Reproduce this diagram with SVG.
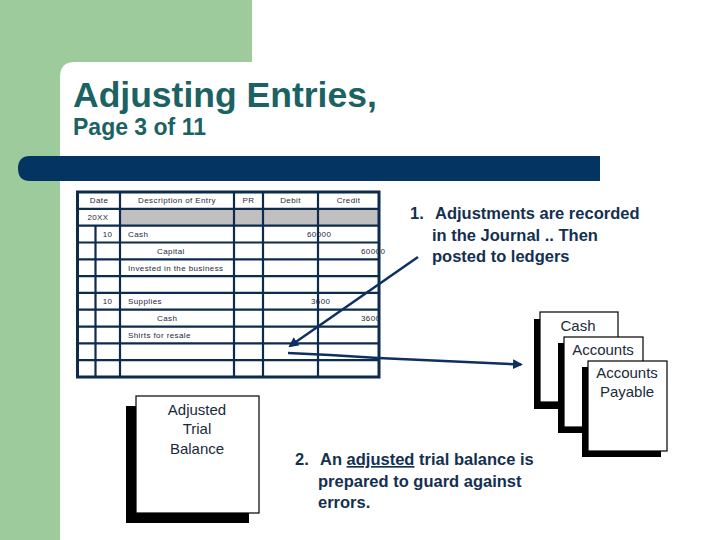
<svg xmlns="http://www.w3.org/2000/svg" width="720" height="540" viewBox="0 0 720 540">
<style>
.title{font-family:"Liberation Sans",Arial,sans-serif;font-weight:bold;fill:#1b6262}
.tbl{font-family:"Liberation Sans",Arial,sans-serif;font-size:8px;fill:#1a2a3a;letter-spacing:0.4px}
.grid{stroke:#0c2b4d;stroke-width:2.2;fill:none}
.call{font-family:"Liberation Sans",Arial,sans-serif;font-size:16.5px;font-weight:bold;fill:#14304f}
.card{fill:#ffffff;stroke:#000;stroke-width:1.2}
.shadow{fill:#000}
.cardtxt{font-family:"Liberation Sans",Arial,sans-serif;font-size:15px;fill:#1a2a3a;text-anchor:middle}
.conn{stroke:#0d3060;stroke-width:2.5;fill:none}
</style>
<defs>
<marker id="ah" viewBox="0 0 10 10" refX="8" refY="5" markerWidth="4" markerHeight="4" orient="auto" markerUnits="strokeWidth">
<path d="M0,0 L10,5 L0,10 z" fill="#0d3060"/>
</marker>
</defs>
<rect x="0" y="0" width="720" height="540" fill="#ffffff"/>
<g id="background">
<rect x="0" y="0" width="252" height="75" fill="#9ecb9c"/>
<rect x="0" y="0" width="60" height="540" fill="#9ecb9c"/>
<path d="M60,540 L60,77 Q60,62 75,62 L720,62 L720,540 z" fill="#ffffff"/>
<path d="M30,156 L600,156 L600,181 L30,181 Q18,181 18,168.5 Q18,156 30,156 z" fill="#033462"/>
</g>
<g id="title">
<text class="title" x="73" y="107" font-size="35.5">Adjusting Entries,</text>
<text class="title" x="73" y="135" font-size="23">Page 3 of 11</text>
</g>
<g id="journal">
<rect x="120" y="208.8" width="258" height="16.8" fill="#c0c0c0"/>
<g class="grid">
<rect x="77.5" y="192" width="301.5" height="185" stroke-width="3"/>
<path d="M77.5,208.8H379 M77.5,225.6H379 M77.5,242.5H379 M77.5,259.3H379 M77.5,276.1H379 M77.5,292.9H379 M77.5,309.7H379 M77.5,326.6H379 M77.5,343.4H379 M77.5,360.2H379"/>
<path d="M95.5,225.6V377 M120,192V377 M234,192V377 M263,192V377 M318,192V377"/>
</g>
<g class="tbl">
<text x="99" y="203" text-anchor="middle">Date</text>
<text x="177" y="203" text-anchor="middle">Description of Entry</text>
<text x="248.5" y="203" text-anchor="middle">PR</text>
<text x="290.5" y="203" text-anchor="middle">Debit</text>
<text x="348.5" y="203" text-anchor="middle">Credit</text>
<text x="98" y="220" text-anchor="middle">20XX</text>
<text x="107.5" y="237" text-anchor="middle">10</text>
<text x="128" y="237">Cash</text>
<text x="307" y="237">60000</text>
<text x="157" y="254">Capital</text>
<text x="361" y="254">60000</text>
<text x="128" y="271">Invested in the business</text>
<text x="107.5" y="304" text-anchor="middle">10</text>
<text x="128" y="304">Supplies</text>
<text x="311" y="304">3600</text>
<text x="157" y="321">Cash</text>
<text x="361" y="321">3600</text>
<text x="128" y="338">Shirts for resale</text>
</g>
</g>
<g id="connectors">
<line class="conn" x1="418" y1="257" x2="290" y2="346" marker-end="url(#ah)"/>
<polyline class="conn" points="288,353 330,355 378,358 521,364.5" marker-end="url(#ah)"/>
</g>
<g id="callout1">
<text class="call" x="410" y="219">1.<tspan x="435">Adjustments are recorded</tspan></text>
<text class="call" x="432" y="241">in the Journal .. Then</text>
<text class="call" x="432" y="262">posted to ledgers</text>
</g>
<g id="callout2">
<text class="call" x="295" y="465">2.<tspan x="320">An </tspan><tspan text-decoration="underline">adjusted</tspan> trial balance is</text>
<text class="call" x="318" y="487">prepared to guard against</text>
<text class="call" x="318" y="508">errors.</text>
</g>
<g id="trial-balance">
<rect class="shadow" x="126" y="406" width="123" height="117"/>
<rect class="card" x="136" y="396" width="123" height="117"/>
<text class="cardtxt" x="197" y="415">Adjusted</text>
<text class="cardtxt" x="197" y="434">Trial</text>
<text class="cardtxt" x="197" y="454">Balance</text>
</g>
<g id="ledger-cash">
<rect class="shadow" x="534" y="319" width="79" height="90"/>
<rect class="card" x="540" y="312" width="78" height="90"/>
<text class="cardtxt" x="578" y="331">Cash</text>
</g>
<g id="ledger-accounts">
<rect class="shadow" x="558" y="343" width="79" height="90"/>
<rect class="card" x="564" y="337" width="79" height="90"/>
<text class="cardtxt" x="603" y="355">Accounts</text>
</g>
<g id="ledger-payable">
<rect class="shadow" x="582" y="367" width="79" height="90"/>
<rect class="card" x="588" y="361" width="79" height="90"/>
<text class="cardtxt" x="627" y="378">Accounts</text>
<text class="cardtxt" x="627" y="397">Payable</text>
</g>
</svg>
